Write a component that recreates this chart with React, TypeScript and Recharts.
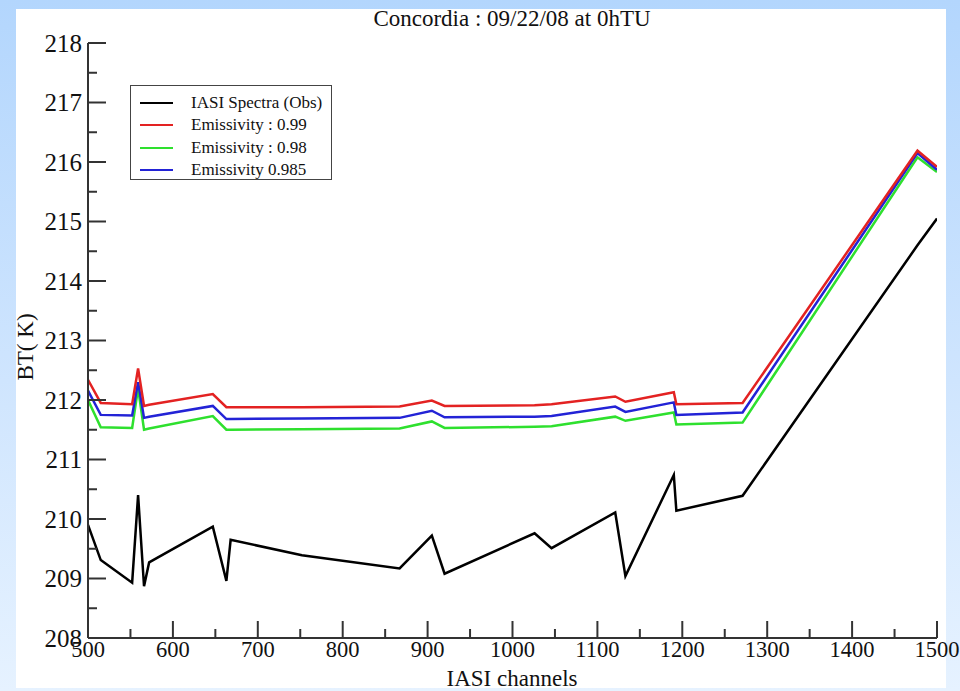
import { LineChart, Line, XAxis, YAxis, Legend } from "recharts";

// IASI channel numbers where the spectra are sampled
const channels = [500, 515, 552, 559, 566, 572, 647, 663, 668, 752, 867, 905, 920, 1026, 1046, 1121, 1133, 1190, 1193, 1271, 1477, 1500];

// brightness temperatures (K)
const obsBT = [209.9, 209.31, 208.93, 210.4, 208.87, 209.27, 209.87, 208.96, 209.65, 209.39, 209.17, 209.72, 209.08, 209.76, 209.51, 210.11, 209.04, 210.74, 210.14, 210.39, 214.6, 215.05];
const emis099 = [212.34, 211.95, 211.93, 212.53, 211.9, 211.92, 212.1, 211.88, 211.88, 211.88, 211.89, 211.99, 211.9, 211.91, 211.93, 212.06, 211.97, 212.13, 211.93, 211.95, 216.19, 215.92];
const emis098 = [212.0, 211.54, 211.53, 212.2, 211.5, 211.52, 211.73, 211.5, 211.5, 211.51, 211.52, 211.64, 211.53, 211.55, 211.56, 211.72, 211.65, 211.79, 211.59, 211.62, 216.08, 215.83];
const emis0985 = [212.16, 211.75, 211.74, 212.3, 211.7, 211.72, 211.9, 211.68, 211.68, 211.69, 211.7, 211.82, 211.71, 211.72, 211.73, 211.89, 211.8, 211.96, 211.75, 211.79, 216.15, 215.87];

const xTicks = [500, 550, 600, 650, 700, 750, 800, 850, 900, 950, 1000, 1050, 1100, 1150, 1200, 1250, 1300, 1350, 1400, 1450, 1500];
const yTicks = [208, 208.5, 209, 209.5, 210, 210.5, 211, 211.5, 212, 212.5, 213, 213.5, 214, 214.5, 215, 215.5, 216, 216.5, 217, 217.5, 218];

const series = [
  { key: "obs", name: "IASI Spectra (Obs)", color: "#000000" },
  { key: "e099", name: "Emissivity : 0.99", color: "#e32222" },
  { key: "e098", name: "Emissivity : 0.98", color: "#2ee02e" },
  { key: "e0985", name: "Emissivity 0.985", color: "#2323d6" },
];

const data = channels.map((ch, i) => ({
  ch,
  obs: obsBT[i],
  e099: emis099[i],
  e098: emis098[i],
  e0985: emis0985[i],
}));

const FONT = "'Liberation Serif', 'DejaVu Serif', serif";
const AXIS = "#333";

// ticks are drawn inward, like the xmgrace frame
const BottomTick = ({ x, y, payload }: any) => {
  const major = payload.value % 100 === 0;
  return (
    <g>
      <line x1={x} y1={y} x2={x} y2={y - (major ? 17 : 9)} stroke={AXIS} strokeWidth={2} />
      {major && (
        <text x={x} y={y + 19} textAnchor="middle" fontSize={22.5} fontFamily={FONT} fill="#111">
          {payload.value}
        </text>
      )}
    </g>
  );
};

const TopTick = ({ x, y, payload }: any) => {
  const major = payload.value % 100 === 0;
  return <line x1={x} y1={y} x2={x} y2={y + (major ? 17 : 9)} stroke={AXIS} strokeWidth={2} />;
};

const LeftTick = ({ x, y, payload }: any) => {
  const major = payload.value % 1 === 0;
  return (
    <g>
      <line x1={x} y1={y} x2={x + (major ? 18 : 9)} y2={y} stroke={AXIS} strokeWidth={2} />
      {major && (
        <text x={x - 6} y={y} dy="0.35em" textAnchor="end" fontSize={25} fontFamily={FONT} fill="#111">
          {payload.value}
        </text>
      )}
    </g>
  );
};

const RightTick = ({ x, y, payload }: any) => {
  const major = payload.value % 1 === 0;
  return <line x1={x} y1={y} x2={x - (major ? 18 : 9)} y2={y} stroke={AXIS} strokeWidth={2} />;
};

const LegendBox = () => (
  <div
    style={{
      width: 202,
      height: 95,
      border: "1.5px solid #444",
      background: "#fff",
      fontFamily: FONT,
      fontSize: 17,
      color: "#111",
      boxSizing: "border-box",
      paddingTop: 6,
    }}
  >
    {series.map((s) => (
      <div key={s.key} style={{ display: "flex", alignItems: "center", height: 22.3 }}>
        <div style={{ width: 33, height: 2, background: s.color, marginLeft: 9, marginRight: 18 }} />
        <span>{s.name}</span>
      </div>
    ))}
  </div>
);

export default function App() {
  return (
    <div
      style={{
        position: "relative",
        width: 960,
        height: 691,
        overflow: "hidden",
        background: "linear-gradient(to bottom, #b3d6fd 0%, #cfe5fe 55%, #e6f2ff 100%)",
      }}
    >
      <style>{"body{margin:0}"}</style>
      <div style={{ position: "absolute", left: 16, top: 9, width: 930, height: 679, background: "#fff" }} />
      <div style={{ position: "absolute", left: 0, top: 0 }}>
        <LineChart width={960} height={691} data={data} margin={{ top: 43, right: 23, bottom: 23, left: 48 }}>
          <XAxis
            dataKey="ch"
            type="number"
            domain={[500, 1500]}
            ticks={xTicks}
            interval={0}
            allowDataOverflow
            height={30}
            tickSize={0}
            tickMargin={0}
            tickLine={false}
            axisLine={{ stroke: AXIS, strokeWidth: 2 }}
            tick={<BottomTick />}
          />
          <XAxis
            xAxisId="top"
            orientation="top"
            dataKey="ch"
            type="number"
            domain={[500, 1500]}
            ticks={xTicks}
            interval={0}
            allowDataOverflow
            height={0}
            tickSize={0}
            tickMargin={0}
            tickLine={false}
            axisLine={{ stroke: AXIS, strokeWidth: 2 }}
            tick={<TopTick />}
          />
          <YAxis
            type="number"
            domain={[208, 218]}
            ticks={yTicks}
            interval={0}
            allowDataOverflow
            width={40}
            tickSize={0}
            tickMargin={0}
            tickLine={false}
            axisLine={{ stroke: AXIS, strokeWidth: 2 }}
            tick={<LeftTick />}
          />
          <YAxis
            yAxisId="right"
            orientation="right"
            type="number"
            domain={[208, 218]}
            ticks={yTicks}
            interval={0}
            allowDataOverflow
            width={0}
            tickSize={0}
            tickMargin={0}
            tickLine={false}
            axisLine={{ stroke: AXIS, strokeWidth: 2 }}
            tick={<RightTick />}
          />
          <Legend
            layout="vertical"
            align="center"
            verticalAlign="middle"
            wrapperStyle={{ top: 85, left: 130, width: 202 }}
            content={() => <LegendBox />}
          />
          <Line type="linear" dataKey="e098" name={series[2].name} stroke={series[2].color} strokeWidth={2.5} dot={false} isAnimationActive={false} />
          <Line type="linear" dataKey="e0985" name={series[3].name} stroke={series[3].color} strokeWidth={2.5} dot={false} isAnimationActive={false} />
          <Line type="linear" dataKey="e099" name={series[1].name} stroke={series[1].color} strokeWidth={2.5} dot={false} isAnimationActive={false} />
          <Line type="linear" dataKey="obs" name={series[0].name} stroke={series[0].color} strokeWidth={2.5} dot={false} isAnimationActive={false} />
        </LineChart>
      </div>
      <svg width={960} height={691} style={{ position: "absolute", left: 0, top: 0, pointerEvents: "none" }}>
        <text x={512} y={26} textAnchor="middle" fontSize={23} fontFamily={FONT} fill="#111">
          Concordia : 09/22/08 at 0hTU
        </text>
        <text x={512} y={686} textAnchor="middle" fontSize={23} fontFamily={FONT} fill="#111">
          IASI channels
        </text>
        <text
          x={33}
          y={347}
          textAnchor="middle"
          fontSize={23}
          fontFamily={FONT}
          fill="#111"
          transform="rotate(-90 33 347)"
        >
          BT( K)
        </text>
      </svg>
    </div>
  );
}
